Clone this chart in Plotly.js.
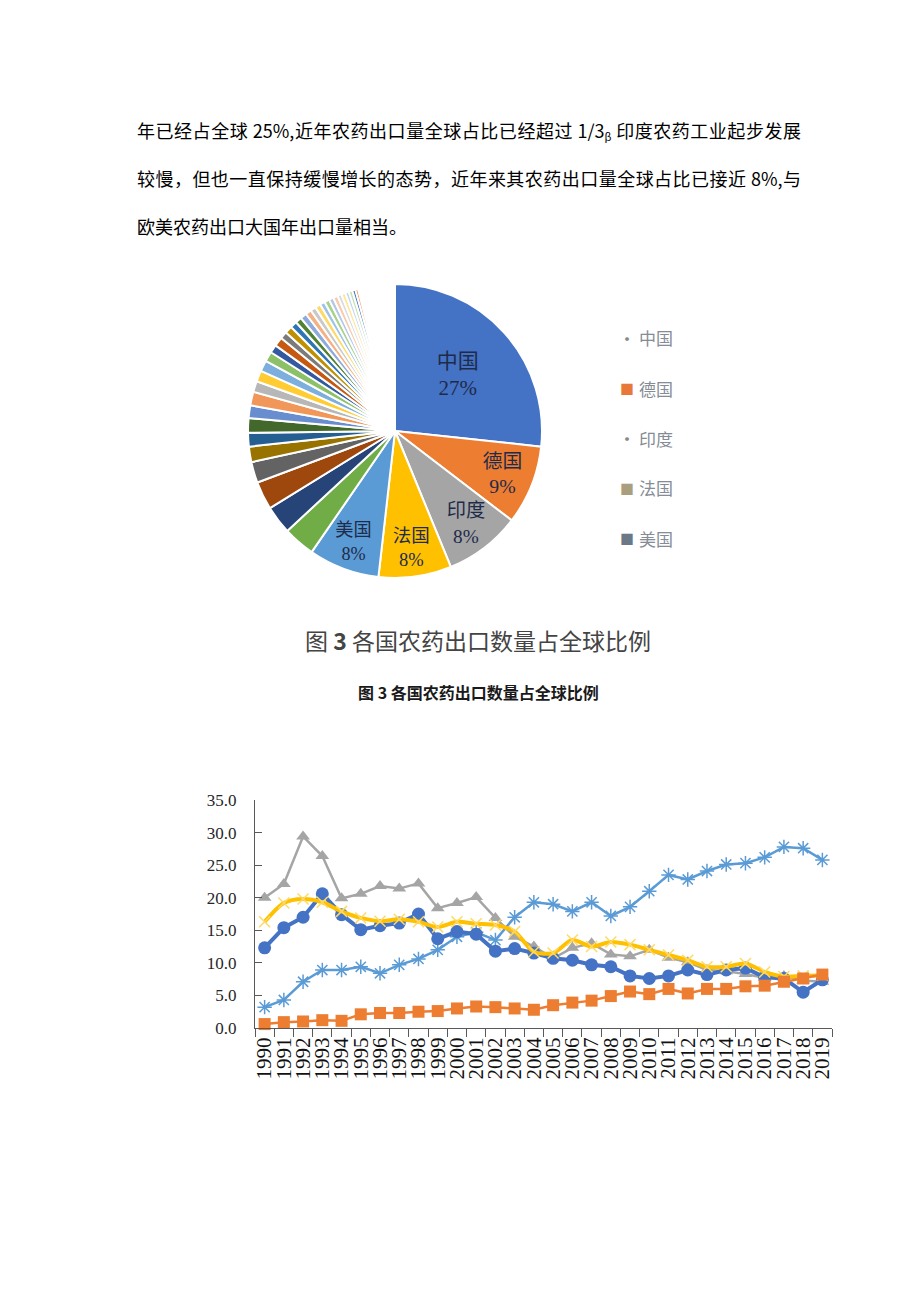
<!DOCTYPE html>
<html>
<head>
<meta charset="utf-8">
<script src="https://cdn.plot.ly/plotly-3.0.1.min.js"></script>
<style>
html,body{margin:0;padding:0;background:#fff;}
#wrap{position:relative;width:920px;height:1301px;overflow:hidden;}
#chart{position:absolute;left:0;top:0;width:920px;height:1301px;}
.para{position:absolute;left:137px;width:664px;font-family:"Noto Sans CJK SC","Noto Sans",sans-serif;font-size:18px;line-height:24px;color:#000;z-index:5;}
.just{text-align:justify;text-align-last:justify;}
.para sub{font-size:11px;vertical-align:-3px;}
</style>
</head>
<body>
<div id="wrap">
  <div id="chart"></div>
  <div class="para just" style="top:118px;">年已经占全球 25%,近年农药出口量全球占比已经超过 1/3<sub>β</sub> 印度农药工业起步发展</div>
  <div class="para just" style="top:166px;">较慢，但也一直保持缓慢增长的态势，近年来其农药出口量全球占比已接近 8%,与</div>
  <div class="para" style="top:214px;">欧美农药出口大国年出口量相当。</div>
</div>
<script>
// ---------- Pie data (share of global pesticide exports, %) ----------
const pieMainLabels = ["中国", "德国", "印度", "法国", "美国"];
const pieValues = [26.7, 8.7, 8.4, 8.0, 7.8,
  3.5, 3.1, 3.1, 2.3, 1.7, 1.5, 1.6, 1.4, 1.5, 1.2, 1.2, 1.2, 1.1, 0.9, 1.0,
  0.8, 0.8, 0.75, 0.7, 0.7, 0.65, 0.6, 0.6, 0.55, 0.55, 0.5, 0.5, 0.45, 0.45, 0.4, 0.4, 0.35, 0.3,
  0.09, 0.09, 0.09, 0.09, 0.09, 0.09, 0.09, 0.09, 0.09, 0.09, 0.09, 0.09, 0.09, 0.09, 0.09,
  0.09, 0.09, 0.09, 0.09, 0.09, 0.09, 0.09, 0.09, 0.09, 0.09, 0.09, 0.09, 0.09, 0.09, 0.09,
  0.09, 0.09, 0.09, 0.09, 0.09, 0.09, 0.09, 0.09, 0.09, 0.09, 0.09, 0.09, 0.09, 0.09, 0.09];
const piePalette = ["#4472C4", "#ED7D31", "#A5A5A5", "#FFC000", "#5B9BD5", "#70AD47",
  "#264478", "#9E480E", "#636363", "#997300", "#255E91", "#43682B",
  "#698ED0", "#F1975A", "#B7B7B7", "#FFCD33", "#7CAFDD", "#8CC168",
  "#335AA1", "#C65911", "#7B7B7B", "#BF9000", "#2E75B6", "#548235",
  "#8FAADC", "#F4B183", "#C9C9C9", "#FFD966", "#9DC3E6", "#A9D18E",
  "#B4C7E7", "#F8CBAD", "#DBDBDB", "#FFE699", "#BDD7EE", "#C5E0B4"];

// ---------- Line chart data ----------
const years = ["1990","1991","1992","1993","1994","1995","1996","1997","1998","1999",
  "2000","2001","2002","2003","2004","2005","2006","2007","2008","2009",
  "2010","2011","2012","2013","2014","2015","2016","2017","2018","2019"];
const seriesCircle = [12.3, 15.4, 17.0, 20.6, 17.4, 15.1, 15.7, 16.1, 17.5, 13.7,
  14.8, 14.4, 11.8, 12.2, 11.5, 10.7, 10.4, 9.7, 9.4, 8.0,
  7.6, 8.0, 8.9, 8.2, 8.9, 9.2, 7.8, 7.6, 5.5, 7.4];
const seriesSquare = [0.6, 0.9, 1.0, 1.2, 1.1, 2.1, 2.3, 2.3, 2.5, 2.6,
  3.0, 3.3, 3.2, 3.0, 2.8, 3.5, 3.9, 4.2, 4.9, 5.6,
  5.2, 6.0, 5.3, 6.0, 6.0, 6.4, 6.5, 7.1, 7.6, 8.2];
const seriesTriangle = [20.0, 22.1, 29.4, 26.4, 19.9, 20.6, 21.8, 21.4, 22.2, 18.4,
  19.2, 20.1, 16.9, 14.0, 12.5, 10.7, 12.3, 13.0, 11.3, 11.0,
  12.0, 10.8, 10.1, 8.9, 8.7, 8.3, 7.7, 8.0, 7.3, 7.1];
const seriesCross = [16.3, 19.2, 19.8, 19.3, 17.9, 16.9, 16.4, 16.7, 16.3, 15.5,
  16.3, 16.0, 15.8, 14.8, 11.7, 11.5, 13.5, 12.5, 13.2, 12.8,
  12.0, 11.2, 10.4, 9.4, 9.4, 9.9, 8.6, 7.9, 8.0, 8.1];
const seriesStar = [3.2, 4.3, 7.1, 8.9, 8.9, 9.4, 8.4, 9.7, 10.6, 12.0,
  14.0, 14.7, 13.5, 17.0, 19.3, 19.0, 17.9, 19.3, 17.2, 18.6,
  21.0, 23.5, 22.8, 24.1, 25.1, 25.3, 26.2, 27.8, 27.6, 25.8];
const yTickVals = [0, 5, 10, 15, 20, 25, 30, 35];

// ---------- helpers ----------
const W = 920, H = 1301;
const px = x => x / W;
const py = y => 1 - y / H;

const pieLabels = pieValues.map((v, i) => i < pieMainLabels.length ? pieMainLabels[i] : "其他" + (i - 4));
const pieColors = pieValues.map((v, i) => piePalette[i % piePalette.length]);
const pieTexts = pieValues.map((v, i) => i < pieMainLabels.length ? "%{label}<br>%{value:.0f}%" : "");

const pie = {
  type: "pie",
  labels: pieLabels,
  values: pieValues,
  sort: false,
  direction: "clockwise",
  rotation: 0,
  domain: {x: [px(248), px(542)], y: [py(578), py(284)]},
  marker: {colors: pieColors, line: {color: "#ffffff", width: 2}},
  texttemplate: pieTexts,
  textposition: "inside",
  insidetextorientation: "horizontal",
  insidetextfont: {family: "Liberation Serif, Noto Sans CJK SC, serif", size: 21, color: "#1E2B4A"},
  showlegend: false,
  hoverinfo: "skip"
};

function lineTrace(y, color, width, symbol, msize, mcolor, mline, shape) {
  return {
    type: "scatter", mode: "lines+markers", x: years, y: y,
    xaxis: "x", yaxis: "y", cliponaxis: false, showlegend: false, hoverinfo: "skip",
    line: {color: color, width: width, shape: shape || "linear", smoothing: 0.8},
    marker: {symbol: symbol, size: msize, color: mcolor, line: {color: mcolor, width: mline}}
  };
}

const traces = [
  pie,
  lineTrace(seriesStar, "#5B9BD5", 2.5, "asterisk-open", 12, "#5B9BD5", 1.5),
  lineTrace(seriesTriangle, "#A5A5A5", 2.5, "triangle-up", 12, "#A5A5A5", 0),
  lineTrace(seriesCircle, "#4472C4", 4, "circle", 13, "#4472C4", 0),
  lineTrace(seriesCross, "#FFC000", 4, "x-thin-open", 11, "#FFD966", 1.5, "spline"),
  lineTrace(seriesSquare, "#ED7D31", 2.5, "square", 12, "#ED7D31", 0)
];

const legendItems = [
  {mark: "·", color: "#8a8a8a", size: 18, text: "中国", y: 338},
  {mark: "■", color: "#E8783A", size: 14, text: "德国", y: 388},
  {mark: "·", color: "#8a8a8a", size: 18, text: "印度", y: 438},
  {mark: "■", color: "#A99E7E", size: 14, text: "法国", y: 488},
  {mark: "■", color: "#6B7888", size: 14, text: "美国", y: 538}
];
const annotations = [];
legendItems.forEach(it => {
  annotations.push({xref: "paper", yref: "paper", x: px(627), y: py(it.y), text: it.mark,
    showarrow: false, xanchor: "center", yanchor: "middle",
    font: {family: "Noto Sans CJK SC", size: it.size, color: it.color}});
  annotations.push({xref: "paper", yref: "paper", x: px(637), y: py(it.y), text: it.text,
    showarrow: false, xanchor: "left", yanchor: "middle",
    font: {family: "Noto Sans CJK SC", size: 17, color: "#858c96"}});
});
annotations.push({xref: "paper", yref: "paper", x: px(478), y: py(640),
  text: "图 <b>3</b> 各国农药出口数量占全球比例", showarrow: false,
  xanchor: "center", yanchor: "middle",
  font: {family: "Noto Sans CJK SC", size: 23, color: "#444444"}});
annotations.push({xref: "paper", yref: "paper", x: px(478), y: py(692),
  text: "<b>图 3 各国农药出口数量占全球比例</b>", showarrow: false,
  xanchor: "center", yanchor: "middle",
  font: {family: "Noto Sans CJK SC", size: 16, color: "#1a1a1a"}});

const layout = {
  width: W, height: H, autosize: false,
  margin: {l: 0, r: 0, t: 0, b: 0, pad: 0},
  paper_bgcolor: "#ffffff", plot_bgcolor: "rgba(0,0,0,0)",
  showlegend: false,
  xaxis: {
    domain: [px(255), px(832)], anchor: "y", type: "category",
    range: [-0.5, 29.5], tickmode: "linear", tick0: 0, dtick: 1,
    tickson: "boundaries", ticks: "outside", ticklen: 8, tickwidth: 1, tickcolor: "#595959",
    showline: true, linecolor: "#595959", linewidth: 1,
    showgrid: false, zeroline: false, tickangle: -90,
    tickfont: {family: "Liberation Serif, serif", size: 21, color: "#111111"},
    fixedrange: true
  },
  yaxis: {
    domain: [py(1028), py(800)], anchor: "x",
    range: [0, 35], tickmode: "array", tickvals: yTickVals, tickformat: ".1f",
    ticks: "inside", ticklen: 7, tickwidth: 1, tickcolor: "#595959",
    showline: true, linecolor: "#595959", linewidth: 1,
    showgrid: false, zeroline: false, ticklabelstandoff: 14,
    tickfont: {family: "Liberation Serif, serif", size: 17, color: "#262626"},
    fixedrange: true
  },
  annotations: annotations
};

Plotly.newPlot("chart", traces, layout, {staticPlot: true, displayModeBar: false});
</script>
</body>
</html>
